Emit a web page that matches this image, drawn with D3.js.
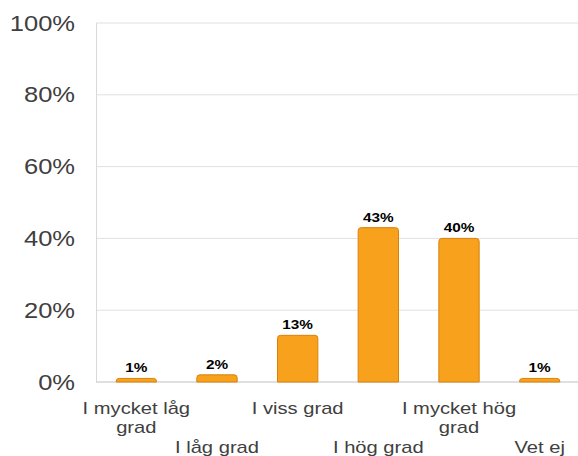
<!DOCTYPE html>
<html><head><meta charset="utf-8">
<script src="https://cdn.jsdelivr.net/npm/d3@7"></script>
<style>body{margin:0;background:#fff}svg{display:block}</style>
</head><body>
<script>
const categories = [["I mycket låg","grad"],["I låg grad"],["I viss grad"],["I hög grad"],["I mycket hög","grad"],["Vet ej"]];
const values = [1, 2, 13, 43, 40, 1];
const yTicks = [0, 20, 40, 60, 80, 100];

const W = 578, H = 456;
const m = {left: 96, right: -2, top: 23, bottom: 74};
const FONT = "Liberation Sans, Arial, sans-serif";
const svg = d3.select("body").append("svg").attr("width", W).attr("height", H);
const x = d3.scaleBand().domain(d3.range(categories.length)).range([m.left, W - m.right]).paddingInner(0.5).paddingOuter(0.25);
const y = d3.scaleLinear().domain([0, 100]).range([H - m.bottom, m.top]);

svg.append("g").selectAll("line").data(yTicks).join("line")
  .attr("x1", m.left).attr("x2", W).attr("y1", d => y(d)).attr("y2", d => y(d))
  .attr("stroke", "#e0e0e0").attr("stroke-width", 1);
svg.append("line").attr("x1", m.left + 0.5).attr("x2", m.left + 0.5).attr("y1", y(100)).attr("y2", y(0))
  .attr("stroke", "#d9d9d9");
svg.append("line").attr("x1", m.left).attr("x2", W).attr("y1", y(0)).attr("y2", y(0))
  .attr("stroke", "#d0d0d0");

const sy = 1.16;
const yAxis = d3.axisLeft(y).tickValues(yTicks).tickFormat(d => d + "%").tickSize(0).tickPadding(20);
const ga = svg.append("g").attr("transform", `translate(${m.left},0)`).call(yAxis);
ga.select(".domain").remove();
ga.selectAll("text").attr("font-family", FONT).attr("font-size", 22).attr("fill", "#404040")
  .attr("x", -21 / sy).attr("transform", `scale(${sy},1)`);

svg.append("g").selectAll("path").data(values).join("path")
  .attr("d", (d, i) => {
    const x0 = x(i), w = x.bandwidth(), y0 = y(d), yb = y(0), r = Math.min(3, (yb - y0));
    return `M${x0},${yb}V${y0 + r}Q${x0},${y0} ${x0 + r},${y0}H${x0 + w - r}Q${x0 + w},${y0} ${x0 + w},${y0 + r}V${yb}Z`;
  })
  .attr("fill", "#F7A11D").attr("stroke", "#D9820B").attr("stroke-width", 1);

svg.append("g").selectAll("text").data(values).join("text")
  .attr("transform", (d, i) => `translate(${x(i) + x.bandwidth() / 2},${y(d) - 6}) scale(1.18,1)`)
  .attr("text-anchor", "middle").attr("font-family", FONT)
  .attr("font-weight", "bold").attr("font-size", 13).attr("fill", "#000")
  .text(d => d + "%");

const lab = svg.append("g").selectAll("text").data(categories).join("text")
  .attr("text-anchor", "middle").attr("font-family", FONT)
  .attr("font-size", 16).attr("fill", "#404040")
  .attr("transform", (d, i) => `translate(${x(i) + x.bandwidth() / 2},${i % 2 === 0 ? 414 : 453}) scale(1.26,1)`);
lab.selectAll("tspan").data(d => d).join("tspan")
  .attr("x", 0).attr("dy", (d, j) => j === 0 ? 0 : 19).text(d => d);
</script>
</body></html>
